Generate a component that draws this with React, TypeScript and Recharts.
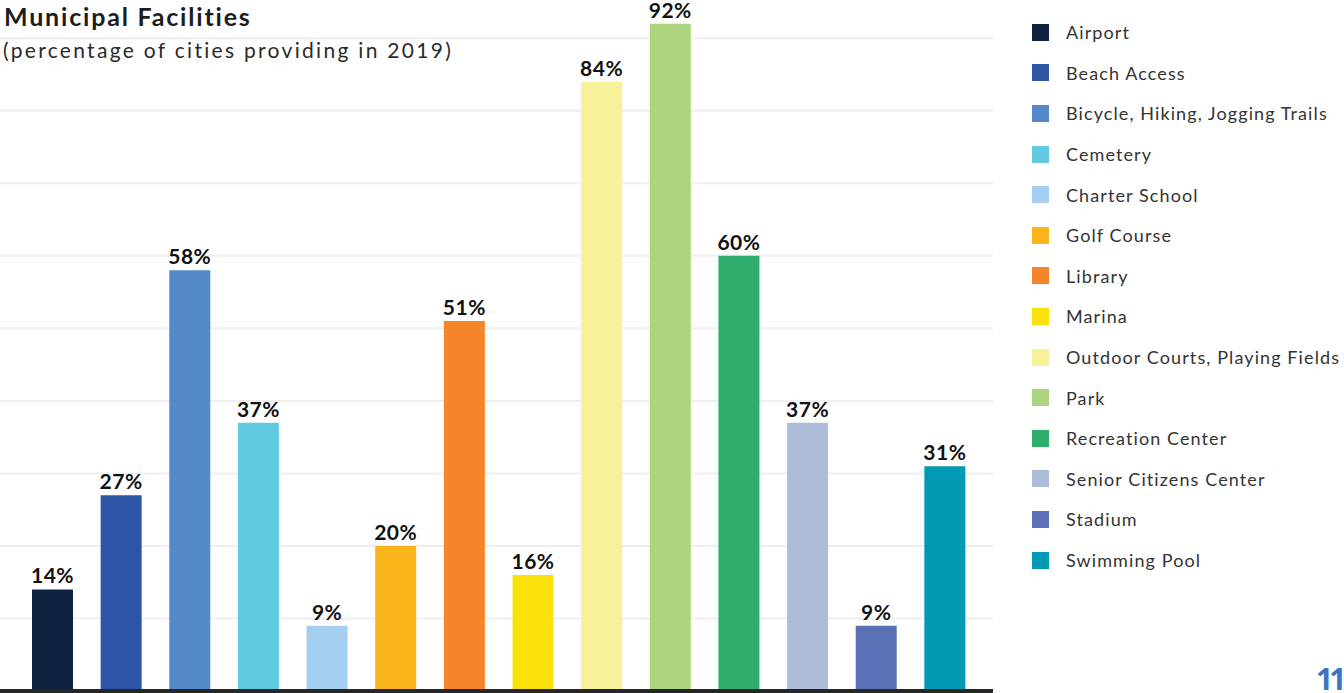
import React from 'react';
import { BarChart, Bar, XAxis, YAxis, CartesianGrid, Cell, LabelList } from 'recharts';

const facilities = [
  'Airport',
  'Beach Access',
  'Bicycle, Hiking, Jogging Trails',
  'Cemetery',
  'Charter School',
  'Golf Course',
  'Library',
  'Marina',
  'Outdoor Courts, Playing Fields',
  'Park',
  'Recreation Center',
  'Senior Citizens Center',
  'Stadium',
  'Swimming Pool',
];

const percentProviding = [14, 27, 58, 37, 9, 20, 51, 16, 84, 92, 60, 37, 9, 31];

const barColors = [
  '#0f2240', '#2e55a5', '#5689c9', '#62cae1', '#a5cff0', '#f9b51a', '#f5852a',
  '#fbe10b', '#f7f19a', '#acd47e', '#30ae6d', '#adbdd9', '#5a71b5', '#009ab5',
];

const gridTicks = [10, 20, 30, 40, 50, 60, 70, 80, 90];

const FONT = 'Lato, "Open Sans", sans-serif';

export default function App() {
  const data = facilities.map((name, i) => ({ name, value: percentProviding[i] }));

  return (
    <div style={{ position: 'fixed', left: 0, top: 0, width: 1344, height: 693, background: '#fff', fontFamily: FONT, overflow: 'hidden' }}>
      <div style={{ position: 'absolute', left: 0, top: 0 }}>
        <BarChart width={993} height={693} data={data} margin={{ top: 2, right: 0, bottom: 0, left: 0 }}>
          <CartesianGrid vertical={false} stroke="#efefef" strokeWidth={2} horizontalValues={gridTicks} />
          <XAxis
            dataKey="name"
            height={2}
            tick={false}
            tickLine={false}
            axisLine={{ stroke: '#262626', strokeWidth: 4 }}
            padding={{ left: 18, right: 14 }}
          />
          <YAxis hide domain={[0, 95]} ticks={gridTicks} />
          <Bar dataKey="value" barSize={41} isAnimationActive={false}>
            {data.map((d, i) => (
              <Cell key={d.name} fill={barColors[i]} />
            ))}
            <LabelList
              dataKey="value"
              position="top"
              offset={6}
              formatter={(v: any) => `${v}%`}
              style={{ fontFamily: FONT, fontSize: 21, fontWeight: 700, fill: '#111', letterSpacing: 0.5 }}
            />
          </Bar>
        </BarChart>
      </div>

      <div style={{ position: 'absolute', left: 4, top: 0, fontSize: 25, fontWeight: 700, color: '#1d1d1d', lineHeight: '32px', letterSpacing: 1.8, whiteSpace: 'nowrap' }}>
        Municipal Facilities
      </div>
      <div style={{ position: 'absolute', left: 3, top: 36, fontSize: 21, color: '#2a2a2a', lineHeight: '28px', letterSpacing: 2.3, whiteSpace: 'nowrap' }}>
        (percentage of cities providing in 2019)
      </div>

      <div style={{ position: 'absolute', left: 1032, top: 12 }}>
        {facilities.map((name, i) => (
          <div key={name} style={{ display: 'flex', alignItems: 'center', height: 40.6 }}>
            <div style={{ width: 17, height: 17, background: barColors[i], marginRight: 17 }} />
            <span style={{ fontSize: 18, color: '#333', whiteSpace: 'nowrap', letterSpacing: 1.1 }}>{name}</span>
          </div>
        ))}
      </div>

      <div style={{ position: 'absolute', left: 1316, top: 667, fontFamily: '"Open Sans", sans-serif', fontSize: 30, fontWeight: 700, color: '#3a76c0', lineHeight: '24px', letterSpacing: -4, whiteSpace: 'nowrap' }}>
        11
      </div>
    </div>
  );
}
